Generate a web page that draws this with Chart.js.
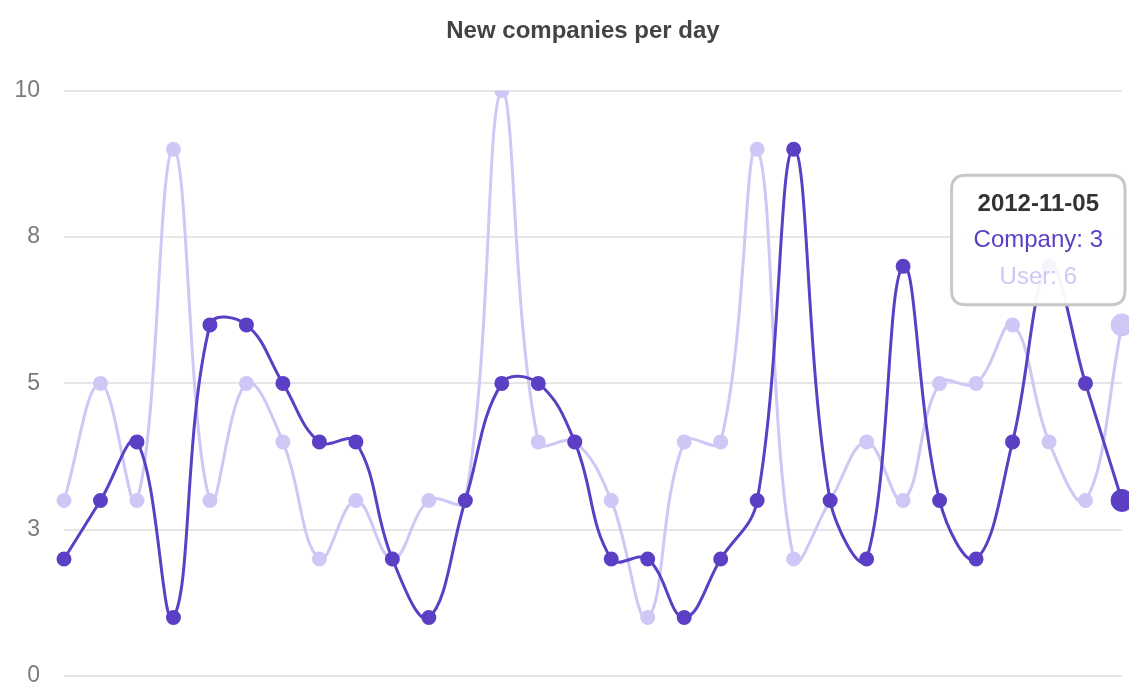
<!DOCTYPE html>
<html lang="en">

<head>
    <meta charset="UTF-8">
    <title>New companies per day</title>
    <script src="https://cdn.jsdelivr.net/npm/chart.js"></script>
    <style>
        html, body {
            margin: 0;
            padding: 0;
            background: #fff;
        }
        .chart-container {
            position: relative;
            width: 1129px;
            height: 683px;
        }
    </style>
</head>

<body>
    <div class="chart-container">
        <canvas id="signupChart"></canvas>
    </div>

    <script>
        const days = [
            '2012-10-07', '2012-10-08', '2012-10-09', '2012-10-10', '2012-10-11',
            '2012-10-12', '2012-10-13', '2012-10-14', '2012-10-15', '2012-10-16',
            '2012-10-17', '2012-10-18', '2012-10-19', '2012-10-20', '2012-10-21',
            '2012-10-22', '2012-10-23', '2012-10-24', '2012-10-25', '2012-10-26',
            '2012-10-27', '2012-10-28', '2012-10-29', '2012-10-30', '2012-10-31',
            '2012-11-01', '2012-11-02', '2012-11-03', '2012-11-04', '2012-11-05'
        ];
        const companyCounts = [2, 3, 4, 1, 6, 6, 5, 4, 4, 2, 1, 3, 5, 5, 4, 2, 2, 1, 2, 3, 9, 3, 2, 7, 3, 2, 4, 7, 5, 3];
        const userCounts = [3, 5, 3, 9, 3, 5, 4, 2, 3, 2, 3, 3, 10, 4, 4, 3, 1, 4, 4, 9, 2, 3, 4, 3, 5, 5, 6, 4, 3, 6];
        const yTicks = [0, 2.5, 5, 7.5, 10];
        const yTickLabels = ['0', '3', '5', '8', '10'];

        const companyColor = '#5b3fc4';
        const userColor = '#cdc8f5';
        const fontFamily = "'Liberation Sans', Arial, sans-serif";

        // keep the tooltip where we put it instead of averaging the points
        Chart.Tooltip.positioners.pinned = function (items, eventPosition) {
            return eventPosition ? { x: eventPosition.x, y: eventPosition.y } : false;
        };

        // nudge the title so it sits a little right of the canvas centre
        const titleShift = {
            id: 'titleShift',
            afterLayout: chart => {
                if (chart.titleBlock) {
                    chart.titleBlock.left += 44;
                }
            }
        };

        function lineDataset(label, data, color) {
            return {
                label: label,
                data: data,
                borderColor: color,
                backgroundColor: color,
                pointBackgroundColor: color,
                pointBorderColor: color,
                pointHoverBackgroundColor: color,
                pointHoverBorderColor: color,
                borderWidth: 3,
                pointRadius: 6,
                pointHoverRadius: 11,
                tension: 0.4,
                fill: false
            };
        }

        const chart = new Chart(document.getElementById('signupChart'), {
            type: 'line',
            data: {
                labels: days,
                datasets: [
                    lineDataset('Company', companyCounts, companyColor),
                    lineDataset('User', userCounts, userColor)
                ]
            },
            plugins: [titleShift],
            options: {
                responsive: true,
                maintainAspectRatio: false,
                animation: false,
                layout: {
                    autoPadding: false,
                    padding: { top: 0, right: 7, bottom: 7, left: 0 }
                },
                interaction: { mode: 'index', intersect: false },
                scales: {
                    x: {
                        display: false
                    },
                    y: {
                        min: 0,
                        max: 10,
                        border: { display: false },
                        grid: {
                            color: '#e6e6e6',
                            lineWidth: 2,
                            drawTicks: false
                        },
                        afterBuildTicks: scale => {
                            scale.ticks = yTicks.map(v => ({ value: v }));
                        },
                        afterFit: scale => {
                            scale.width = 64;
                            scale.paddingBottom = 0;
                        },
                        ticks: {
                            padding: 24,
                            color: '#7a7a7a',
                            font: { family: fontFamily, size: 23 },
                            callback: (value, index) => yTickLabels[index]
                        }
                    }
                },
                plugins: {
                    legend: { display: false },
                    title: {
                        display: true,
                        text: 'New companies per day',
                        color: '#444',
                        font: { family: fontFamily, size: 24, weight: 'bold' },
                        padding: { top: 17, bottom: 45 }
                    },
                    tooltip: {
                        position: 'pinned',
                        xAlign: 'right',
                        yAlign: 'center',
                        caretSize: 0,
                        caretPadding: 0,
                        backgroundColor: 'rgba(255, 255, 255, 0.95)',
                        borderColor: '#c8c8c8',
                        borderWidth: 3,
                        cornerRadius: 14,
                        displayColors: false,
                        padding: { top: 15, bottom: 13, left: 22, right: 22 },
                        titleAlign: 'center',
                        bodyAlign: 'center',
                        titleColor: '#333',
                        titleFont: { family: fontFamily, size: 24, weight: 'bold' },
                        bodyFont: { family: fontFamily, size: 24 },
                        titleMarginBottom: 7,
                        bodySpacing: 8,
                        callbacks: {
                            labelTextColor: ctx => ctx.dataset.borderColor
                        }
                    }
                }
            }
        });

        // show the last day as hovered
        const lastIndex = days.length - 1;
        const active = [
            { datasetIndex: 0, index: lastIndex },
            { datasetIndex: 1, index: lastIndex }
        ];
        const lastPoint = chart.getDatasetMeta(0).data[lastIndex];
        chart.setActiveElements(active);
        chart.tooltip.setActiveElements(active, {
            x: lastPoint.x + 3,
            y: chart.scales.y.getPixelForValue(7.45)
        });
        chart.update();
    </script>
</body>

</html>
